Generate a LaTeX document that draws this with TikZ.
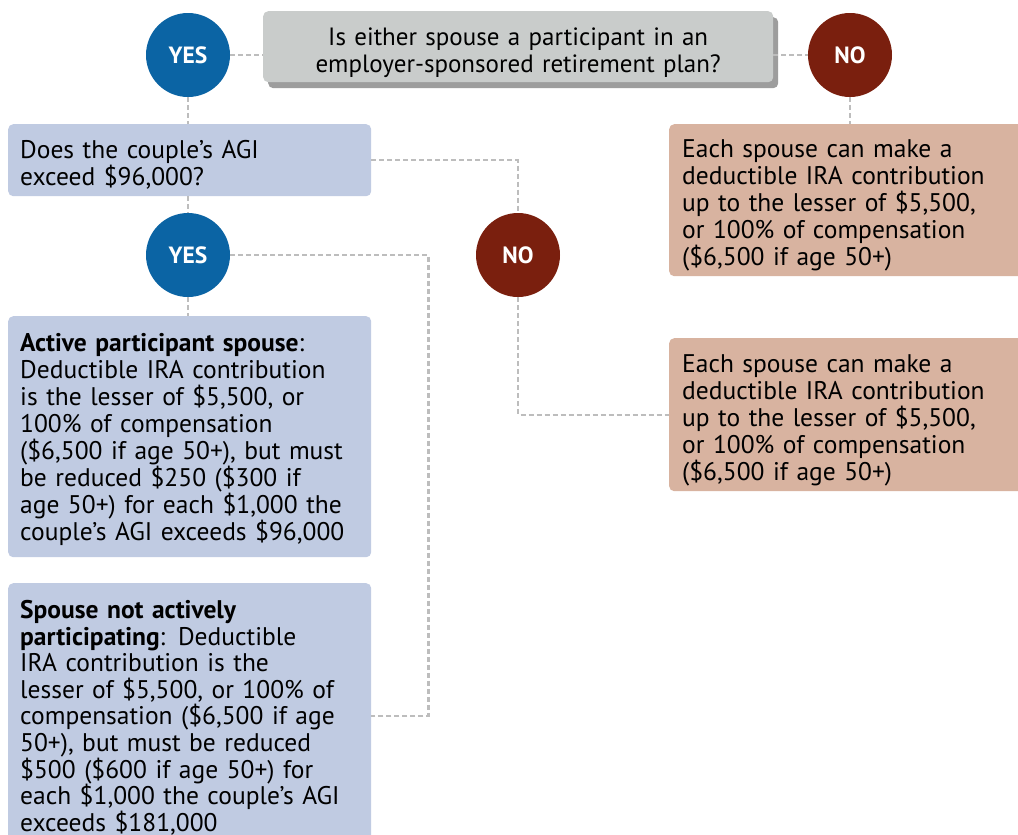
\documentclass[tikz,border=0pt]{standalone}
\usepackage{fontspec}
\setmainfont{PT Sans}
\usetikzlibrary{shadows}
\definecolor{yesblue}{HTML}{0B64A4}
\definecolor{nored}{HTML}{7A1F0E}
\definecolor{qgray}{HTML}{C9CCCB}
\definecolor{qblue}{HTML}{C0CBE2}
\definecolor{tan}{HTML}{D8B3A0}
\definecolor{linkgray}{HTML}{BDBDBD}

\begin{document}
\begin{tikzpicture}[x=1pt, y=-1pt,
    answer/.style={circle, minimum size=84pt, inner sep=0pt, text=white,
        font=\bfseries\fontsize{23.5}{26}\selectfont},
    yescircle/.style={answer, fill=yesblue},
    nocircle/.style={answer, fill=nored},
    infobox/.style={rounded corners=5pt, anchor=north west, align=left,
        inner xsep=12pt, font=\fontsize{25.5}{27}\selectfont},
    textdrop/.style={execute at begin node={\rule{0pt}{#1}}},
    link/.style={draw=linkgray, line width=2.2pt, dash pattern=on 5pt off 3pt}]
    \clip (0,0) rectangle (1018,835);

    % first question
    \node[rounded corners=5pt, fill=qgray, anchor=north west, minimum width=510pt,
        minimum height=71pt, text width=486pt, align=center, textdrop=30pt,
        font=\fontsize{25}{26.5}\selectfont,
        drop shadow={shadow xshift=5pt, shadow yshift=-6pt, opacity=.55, fill=black!70}]
        (q1) at (263,11) {Is either spouse a participant in an\\employer-sponsored retirement plan?};
    \node[yescircle] (yes1) at (188,55) {YES};
    \node[nocircle] (no1) at (850,55) {NO};

    \node[infobox, fill=qblue, text width=339pt, minimum height=72pt, textdrop=28pt]
        (q2) at (8,124) {Does the couple's AGI\\exceed \$96,000?};
    \node[infobox, fill=tan, text width=340pt, minimum height=152pt, inner xsep=13pt, textdrop=29pt]
        (ans1) at (669,124) {Each spouse can make a\\deductible IRA contribution\\up to the lesser of \$5,500,\\or 100\% of compensation\\(\$6,500 if age 50+)};

    %%%

    \node[yescircle] (yes2) at (188,255) {YES};
    \node[nocircle] (no2) at (518,255) {NO};

    \node[infobox, fill=tan, text width=340pt, minimum height=153pt, inner xsep=13pt, textdrop=29pt]
        (ans2) at (669,338) {Each spouse can make a\\deductible IRA contribution\\up to the lesser of \$5,500,\\or 100\% of compensation\\(\$6,500 if age 50+)};
    \node[infobox, fill=qblue, text width=339pt, minimum height=241pt, textdrop=24pt]
        (act) at (8,316) {\textbf{Active participant spouse}:\\Deductible IRA contribution\\is the lesser of \$5,500, or\\100\% of compensation\\(\$6,500 if age 50+), but must\\be reduced \$250 (\$300 if\\age 50+) for each \$1,000 the\\couple's AGI exceeds \$96,000};
    \node[infobox, fill=qblue, text width=339pt, minimum height=265pt, textdrop=22pt,
        font=\fontsize{25.5}{26.6}\selectfont]
        (nonact) at (8,583) {\textbf{Spouse not actively}\\\textbf{participating}: Deductible\\IRA contribution is the\\lesser of \$5,500, or 100\% of\\compensation (\$6,500 if age\\50+), but must be reduced\\\$500 (\$600 if age 50+) for\\each \$1,000 the couple's AGI\\exceeds \$181,000};

    % connectors
    \draw[link] (yes1.east) -- (yes1.east -| q1.west);
    \draw[link] (no1.west -| q1.east) -- (no1.west);
    \draw[link] (yes1.south) -- (yes1 |- q2.north);
    \draw[link] (no1.south) -- (no1 |- ans1.north);
    \draw[link] (q2.east) -| (no2.north);
    \draw[link] (yes2 |- q2.south) -- (yes2.north);
    \draw[link] (yes2.south) -- (yes2 |- act.north);
    \draw[link] (yes2.east) -| ([xshift=57pt]nonact.east) -- (nonact.east);
    \draw[link] (no2.south) |- (ans2.west);
\end{tikzpicture}
\end{document}
